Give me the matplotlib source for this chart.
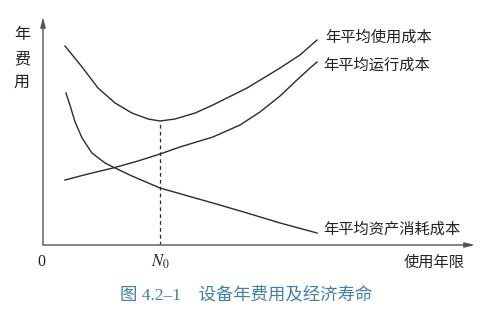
import matplotlib
matplotlib.use("Agg")
import matplotlib.pyplot as plt

plt.rcParams['font.family'] = ['Noto Sans CJK SC', 'DejaVu Sans']
plt.rcParams['mathtext.fontset'] = 'stix'

# ── Data (years, annual cost; arbitrary units) ──────────────────────────────
total_x = [0.94, 1.67, 2.35, 3.08, 3.80, 4.49, 5.0, 5.64, 6.50, 7.26, 8.72, 10.13, 10.98, 11.71]
total_y = [9.95, 8.9, 7.85, 7.1, 6.6, 6.3, 6.2, 6.3, 6.6, 7.0, 7.85, 8.85, 9.5, 10.25]

run_x = [0.94, 1.92, 2.99, 4.06, 5.0, 5.85, 7.26, 8.42, 9.27, 10.13, 10.85, 11.41, 11.71]
run_y = [3.25, 3.55, 3.85, 4.2, 4.55, 4.9, 5.4, 6.0, 6.65, 7.45, 8.25, 8.85, 9.15]

asset_x = [0.98, 1.15, 1.37, 1.67, 2.09, 2.65, 3.08, 3.80, 5.0, 6.50, 7.26, 8.72, 10.13, 11.71]
asset_y = [7.6, 7.0, 6.15, 5.35, 4.6, 4.1, 3.85, 3.45, 2.85, 2.35, 2.1, 1.6, 1.1, 0.6]

n0 = 5.0
n0_cost = 6.2

labels = ["年平均使用成本", "年平均运行成本", "年平均资产消耗成本"]
caption = "图 4.2–1    设备年费用及经济寿命"

# ── Figure ──────────────────────────────────────────────────────────────────
fig = plt.figure(figsize=(4.89, 3.11), dpi=100)
ax = fig.add_axes([43 / 489, 66 / 311, 432 / 489, 228 / 311])
ax.set_xlim(0, 18.46)
ax.set_ylim(0, 11.4)
ax.axis("off")

LINE = "#2b2b2b"
AXC = "#555555"
TXT = "#222222"

# axes with arrows
for end in [(1, 0), (0, 1)]:
    ax.annotate("", xy=end, xytext=(0, 0), xycoords="axes fraction",
                arrowprops=dict(arrowstyle="-|>,head_length=0.6,head_width=0.15",
                                color=AXC, lw=1.0, shrinkA=0, shrinkB=0))

ax.plot(total_x, total_y, color=LINE, lw=1.0, solid_joinstyle="round")
ax.plot(run_x, run_y, color=LINE, lw=1.0, solid_joinstyle="round")
ax.plot(asset_x, asset_y, color=LINE, lw=1.0, solid_joinstyle="round")
ax.plot([n0, n0], [0, n0_cost], color=LINE, lw=0.9, ls=(0, (3, 2.5)))

ax.text(12.05, 10.4, labels[0], fontsize=11, va="center", ha="left", color=TXT)
ax.text(11.97, 9.0, labels[1], fontsize=11, va="center", ha="left", color=TXT)
ax.text(11.97, 0.8, labels[2], fontsize=11, va="center", ha="left", color=TXT)
ax.text(18.03, -0.85, "使用年限", fontsize=11, va="center", ha="right", color=TXT)

ax.text(-0.09, -0.85, "0", fontsize=11.5, va="center", ha="center",
        family="Liberation Serif", color=TXT)
ax.text(n0, -0.85, r"$N_0$", fontsize=12, va="center", ha="center", color=TXT)

for ch, yy in zip("年费用", [10.5, 9.3, 8.15]):
    ax.text(-0.9, yy, ch, fontsize=11.5, va="center", ha="center", color=TXT)

fig.text(246 / 489, 1 - 295 / 311, caption, fontsize=12.5, ha="center", va="center",
         color="#3f7fae", family=["Liberation Serif", "Noto Sans CJK SC"])

fig.savefig("out.png", dpi=100)
